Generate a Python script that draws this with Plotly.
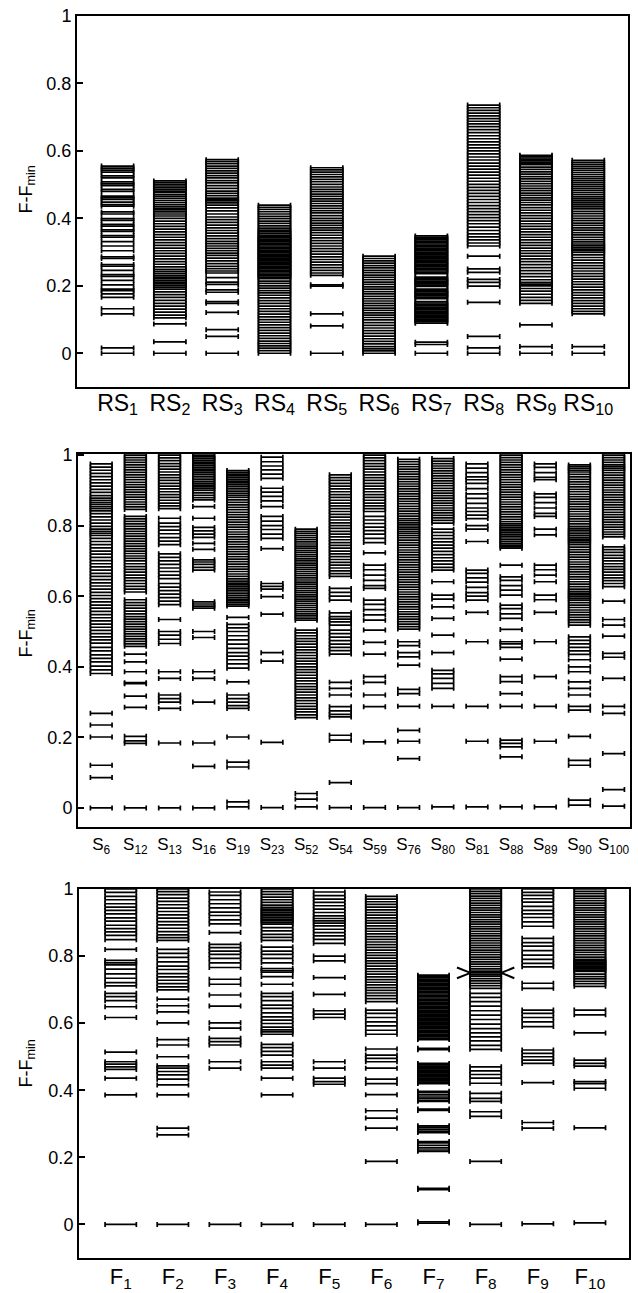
import plotly.graph_objects as go

# ---------------- Panel 1 : RS structures ----------------
rs_labels = ["RS<sub>1</sub>", "RS<sub>2</sub>", "RS<sub>3</sub>", "RS<sub>4</sub>", "RS<sub>5</sub>",
             "RS<sub>6</sub>", "RS<sub>7</sub>", "RS<sub>8</sub>", "RS<sub>9</sub>", "RS<sub>10</sub>"]

RS1 = [0.555, 0.549, 0.543, 0.537, 0.526, 0.520, 0.508, 0.502, 0.497, 0.486, 0.480, 0.466, 0.461, 0.456, 0.448,
       0.441, 0.436, 0.419, 0.413, 0.399, 0.394, 0.382, 0.377, 0.366, 0.361, 0.349, 0.344, 0.331, 0.318, 0.304,
       0.286, 0.281, 0.263, 0.258, 0.246, 0.233, 0.228, 0.216, 0.203, 0.190, 0.186, 0.176, 0.166, 0.132, 0.117,
       0.016, 0.0]
RS2 = [0.511, 0.506, 0.501, 0.496, 0.491, 0.486, 0.481, 0.476, 0.470, 0.465, 0.459, 0.453, 0.447, 0.441, 0.435,
       0.430, 0.425, 0.419, 0.413, 0.407, 0.400, 0.392, 0.384, 0.376, 0.368, 0.360, 0.352, 0.344, 0.336, 0.328,
       0.320, 0.312, 0.304, 0.296, 0.288, 0.280, 0.272, 0.264, 0.256, 0.249, 0.243, 0.237, 0.231, 0.226, 0.221,
       0.216, 0.211, 0.206, 0.201, 0.196, 0.190, 0.182, 0.174, 0.166, 0.157, 0.148, 0.140, 0.131, 0.122, 0.113,
       0.105, 0.087, 0.034, 0.0]
RS3 = [0.574, 0.568, 0.562, 0.555, 0.548, 0.541, 0.534, 0.527, 0.520, 0.512, 0.505, 0.497, 0.489, 0.481, 0.474,
       0.467, 0.460, 0.456, 0.452, 0.446, 0.439, 0.431, 0.422, 0.413, 0.404, 0.396, 0.388, 0.380, 0.372, 0.364,
       0.356, 0.348, 0.340, 0.332, 0.325, 0.318, 0.311, 0.304, 0.297, 0.290, 0.282, 0.274, 0.266, 0.258, 0.251,
       0.244, 0.238, 0.224, 0.211, 0.204, 0.188, 0.181, 0.153, 0.148, 0.121, 0.070, 0.050, 0.0]
RS4 = [0.439, 0.433, 0.427, 0.420, 0.413, 0.406, 0.399, 0.392, 0.385, 0.378, 0.371, 0.365, 0.360, 0.355, 0.350,
       0.346, 0.342, 0.338, 0.334, 0.330, 0.326, 0.322, 0.318, 0.314, 0.310, 0.306, 0.302, 0.298, 0.294, 0.290,
       0.286, 0.282, 0.278, 0.274, 0.270, 0.266, 0.262, 0.258, 0.254, 0.250, 0.246, 0.242, 0.238, 0.234, 0.230,
       0.226, 0.221, 0.214, 0.207, 0.200, 0.193, 0.186, 0.179, 0.172, 0.164, 0.156, 0.148, 0.140, 0.132, 0.124,
       0.116, 0.108, 0.100, 0.092, 0.084, 0.076, 0.068, 0.060, 0.052, 0.044, 0.036, 0.029, 0.022, 0.015, 0.008, 0.0]
RS5 = [0.550, 0.544, 0.537, 0.530, 0.523, 0.516, 0.509, 0.501, 0.493, 0.486, 0.479, 0.472, 0.465, 0.458, 0.451,
       0.444, 0.437, 0.430, 0.423, 0.416, 0.408, 0.400, 0.393, 0.386, 0.379, 0.372, 0.365, 0.358, 0.350, 0.342,
       0.334, 0.326, 0.318, 0.310, 0.302, 0.294, 0.286, 0.278, 0.270, 0.262, 0.254, 0.246, 0.238, 0.231, 0.203,
       0.199, 0.117, 0.081, 0.0]
RS6 = [0.288, 0.281, 0.274, 0.267, 0.260, 0.253, 0.246, 0.239, 0.232, 0.225, 0.218, 0.211, 0.204, 0.197, 0.190,
       0.183, 0.176, 0.169, 0.162, 0.155, 0.148, 0.141, 0.134, 0.127, 0.120, 0.113, 0.106, 0.099, 0.091, 0.083,
       0.075, 0.067, 0.059, 0.051, 0.043, 0.035, 0.028, 0.020, 0.013, 0.007, 0.0]
RS7 = [0.348, 0.344, 0.340, 0.336, 0.332, 0.328, 0.324, 0.320, 0.316, 0.312, 0.308, 0.304, 0.300, 0.296, 0.292,
       0.288, 0.284, 0.280, 0.276, 0.272, 0.268, 0.264, 0.260, 0.256, 0.252, 0.248, 0.244, 0.240, 0.236, 0.226,
       0.222, 0.218, 0.214, 0.210, 0.206, 0.202, 0.198, 0.190, 0.186, 0.182, 0.178, 0.174, 0.170, 0.166, 0.162,
       0.153, 0.149, 0.145, 0.141, 0.137, 0.133, 0.129, 0.125, 0.121, 0.117, 0.113, 0.109, 0.105, 0.101, 0.097,
       0.093, 0.089, 0.033, 0.026, 0.0]
RS8 = [0.736, 0.728, 0.720, 0.712, 0.704, 0.696, 0.688, 0.680, 0.672, 0.663, 0.654, 0.645, 0.636, 0.627, 0.618,
       0.609, 0.600, 0.591, 0.582, 0.573, 0.564, 0.555, 0.546, 0.537, 0.528, 0.519, 0.510, 0.501, 0.492, 0.483,
       0.474, 0.465, 0.456, 0.447, 0.438, 0.429, 0.420, 0.411, 0.402, 0.393, 0.384, 0.374, 0.364, 0.354, 0.345,
       0.336, 0.327, 0.318, 0.288, 0.250, 0.240, 0.219, 0.210, 0.199, 0.151, 0.050, 0.016, 0.0]
RS9 = [0.587, 0.583, 0.579, 0.575, 0.571, 0.567, 0.563, 0.559, 0.552, 0.545, 0.538, 0.531, 0.524, 0.517, 0.510,
       0.503, 0.496, 0.489, 0.482, 0.475, 0.468, 0.461, 0.454, 0.447, 0.440, 0.432, 0.424, 0.416, 0.408, 0.400,
       0.392, 0.384, 0.376, 0.368, 0.360, 0.352, 0.344, 0.336, 0.328, 0.320, 0.312, 0.304, 0.296, 0.288, 0.280,
       0.272, 0.263, 0.254, 0.245, 0.236, 0.227, 0.218, 0.210, 0.205, 0.200, 0.192, 0.184, 0.175, 0.166, 0.157,
       0.148, 0.084, 0.020, 0.0]
RS10 = [0.572, 0.566, 0.560, 0.554, 0.548, 0.542, 0.536, 0.530, 0.524, 0.518, 0.512, 0.506, 0.500, 0.494, 0.488,
        0.482, 0.476, 0.470, 0.464, 0.458, 0.452, 0.446, 0.440, 0.434, 0.428, 0.421, 0.414, 0.407, 0.400, 0.393,
        0.386, 0.379, 0.372, 0.365, 0.358, 0.351, 0.344, 0.337, 0.330, 0.324, 0.319, 0.314, 0.309, 0.304, 0.299,
        0.292, 0.284, 0.276, 0.268, 0.260, 0.252, 0.244, 0.236, 0.228, 0.220, 0.212, 0.204, 0.196, 0.188, 0.180,
        0.172, 0.164, 0.156, 0.148, 0.140, 0.132, 0.124, 0.117, 0.020, 0.0]

# ---------------- Panel 2 : S structures ----------------
s_labels = ["S<sub>6</sub>", "S<sub>12</sub>", "S<sub>13</sub>", "S<sub>16</sub>", "S<sub>19</sub>",
            "S<sub>23</sub>", "S<sub>52</sub>", "S<sub>54</sub>", "S<sub>59</sub>", "S<sub>76</sub>",
            "S<sub>80</sub>", "S<sub>81</sub>", "S<sub>88</sub>", "S<sub>89</sub>", "S<sub>90</sub>",
            "S<sub>100</sub>"]

S6 = [0.975, 0.966, 0.957, 0.948, 0.939, 0.930, 0.921, 0.912, 0.903, 0.894, 0.885, 0.878, 0.872, 0.866, 0.860,
      0.854, 0.848, 0.842, 0.834, 0.825, 0.816, 0.807, 0.798, 0.790, 0.784, 0.778, 0.772, 0.764, 0.755, 0.746,
      0.737, 0.728, 0.719, 0.710, 0.701, 0.692, 0.683, 0.674, 0.665, 0.656, 0.647, 0.638, 0.629, 0.620, 0.611,
      0.602, 0.593, 0.584, 0.575, 0.566, 0.557, 0.548, 0.539, 0.530, 0.521, 0.512, 0.503, 0.494, 0.485, 0.476,
      0.467, 0.455, 0.445, 0.434, 0.424, 0.414, 0.402, 0.391, 0.381, 0.268, 0.235, 0.201, 0.121, 0.086, 0.0]
S12 = [1.0, 0.993, 0.986, 0.979, 0.972, 0.965, 0.958, 0.951, 0.944, 0.937, 0.930, 0.923, 0.916, 0.909, 0.902,
       0.895, 0.888, 0.881, 0.874, 0.867, 0.860, 0.853, 0.846, 0.826, 0.819, 0.812, 0.805, 0.798, 0.791, 0.784,
       0.777, 0.770, 0.763, 0.756, 0.749, 0.742, 0.735, 0.728, 0.721, 0.714, 0.707, 0.700, 0.692, 0.684, 0.676,
       0.668, 0.660, 0.652, 0.644, 0.636, 0.628, 0.620, 0.612, 0.590, 0.582, 0.574, 0.566, 0.558, 0.550, 0.542,
       0.535, 0.528, 0.521, 0.514, 0.507, 0.500, 0.493, 0.486, 0.479, 0.472, 0.465, 0.458, 0.436, 0.414, 0.386,
       0.355, 0.352, 0.317, 0.285, 0.203, 0.190, 0.183, 0.0]
S13 = [1.0, 0.992, 0.984, 0.976, 0.968, 0.960, 0.952, 0.944, 0.936, 0.928, 0.920, 0.912, 0.904, 0.896, 0.888,
       0.880, 0.872, 0.864, 0.856, 0.848, 0.821, 0.807, 0.797, 0.787, 0.777, 0.766, 0.756, 0.746, 0.720, 0.710,
       0.700, 0.690, 0.680, 0.670, 0.660, 0.650, 0.636, 0.626, 0.616, 0.606, 0.596, 0.586, 0.576, 0.534, 0.500,
       0.490, 0.478, 0.466, 0.386, 0.367, 0.320, 0.310, 0.300, 0.282, 0.184, 0.0]
S16 = [1.0, 0.995, 0.990, 0.985, 0.980, 0.975, 0.970, 0.965, 0.960, 0.955, 0.950, 0.945, 0.940, 0.935, 0.930,
       0.925, 0.920, 0.915, 0.910, 0.905, 0.900, 0.893, 0.886, 0.879, 0.873, 0.854, 0.821, 0.795, 0.785, 0.776,
       0.767, 0.750, 0.733, 0.703, 0.697, 0.690, 0.682, 0.674, 0.584, 0.578, 0.572, 0.566, 0.500, 0.483, 0.386,
       0.367, 0.300, 0.184, 0.118, 0.0]
S19 = [0.956, 0.951, 0.946, 0.941, 0.936, 0.931, 0.926, 0.921, 0.916, 0.911, 0.906, 0.901, 0.896, 0.891, 0.886,
       0.880, 0.873, 0.866, 0.859, 0.852, 0.845, 0.838, 0.831, 0.824, 0.817, 0.810, 0.803, 0.796, 0.789, 0.782,
       0.775, 0.768, 0.761, 0.754, 0.747, 0.740, 0.733, 0.726, 0.719, 0.712, 0.705, 0.698, 0.691, 0.684, 0.677,
       0.670, 0.663, 0.656, 0.649, 0.643, 0.637, 0.632, 0.627, 0.622, 0.617, 0.612, 0.607, 0.602, 0.597, 0.592,
       0.587, 0.582, 0.577, 0.572, 0.540, 0.520, 0.510, 0.500, 0.488, 0.476, 0.464, 0.452, 0.440, 0.430, 0.420,
       0.408, 0.396, 0.357, 0.320, 0.310, 0.300, 0.290, 0.282, 0.201, 0.130, 0.116, 0.017, 0.003]
S23 = [0.994, 0.981, 0.969, 0.958, 0.946, 0.934, 0.906, 0.895, 0.883, 0.870, 0.854, 0.826, 0.813, 0.800, 0.789,
       0.776, 0.764, 0.735, 0.636, 0.628, 0.620, 0.599, 0.549, 0.440, 0.416, 0.186, 0.001]
S52 = [0.790, 0.784, 0.778, 0.772, 0.766, 0.760, 0.754, 0.748, 0.742, 0.736, 0.730, 0.724, 0.718, 0.712, 0.706,
       0.700, 0.694, 0.688, 0.682, 0.676, 0.670, 0.664, 0.658, 0.652, 0.646, 0.640, 0.634, 0.628, 0.622, 0.616,
       0.610, 0.604, 0.598, 0.592, 0.586, 0.580, 0.574, 0.568, 0.562, 0.556, 0.550, 0.544, 0.538, 0.532, 0.504,
       0.496, 0.488, 0.480, 0.472, 0.464, 0.456, 0.448, 0.440, 0.432, 0.424, 0.416, 0.408, 0.400, 0.392, 0.384,
       0.376, 0.368, 0.360, 0.352, 0.344, 0.336, 0.328, 0.320, 0.312, 0.304, 0.296, 0.288, 0.280, 0.272, 0.264,
       0.256, 0.041, 0.025, 0.003]
S54 = [0.944, 0.936, 0.928, 0.920, 0.912, 0.904, 0.896, 0.888, 0.880, 0.872, 0.864, 0.856, 0.848, 0.840, 0.832,
       0.824, 0.816, 0.808, 0.800, 0.792, 0.784, 0.776, 0.768, 0.760, 0.752, 0.744, 0.736, 0.728, 0.720, 0.712,
       0.704, 0.696, 0.688, 0.680, 0.672, 0.664, 0.656, 0.622, 0.611, 0.600, 0.589, 0.553, 0.542, 0.535, 0.527,
       0.518, 0.504, 0.494, 0.484, 0.474, 0.464, 0.455, 0.446, 0.436, 0.356, 0.339, 0.320, 0.287, 0.275, 0.265,
       0.258, 0.206, 0.192, 0.072, 0.001]
S59 = [1.0, 0.992, 0.984, 0.976, 0.968, 0.960, 0.952, 0.944, 0.936, 0.928, 0.920, 0.912, 0.904, 0.896, 0.888,
       0.880, 0.872, 0.864, 0.856, 0.848, 0.840, 0.826, 0.816, 0.806, 0.796, 0.786, 0.776, 0.764, 0.752, 0.723,
       0.688, 0.675, 0.660, 0.645, 0.630, 0.622, 0.589, 0.577, 0.562, 0.547, 0.532, 0.504, 0.469, 0.436, 0.372,
       0.356, 0.320, 0.287, 0.187, 0.001]
S76 = [0.988, 0.981, 0.974, 0.967, 0.960, 0.953, 0.946, 0.939, 0.932, 0.925, 0.918, 0.911, 0.904, 0.897, 0.890,
       0.883, 0.876, 0.869, 0.862, 0.855, 0.848, 0.841, 0.834, 0.827, 0.820, 0.814, 0.808, 0.802, 0.796, 0.790,
       0.784, 0.778, 0.772, 0.766, 0.759, 0.752, 0.745, 0.738, 0.731, 0.724, 0.717, 0.710, 0.703, 0.696, 0.689,
       0.682, 0.675, 0.668, 0.661, 0.654, 0.647, 0.640, 0.633, 0.626, 0.619, 0.612, 0.605, 0.598, 0.591, 0.584,
       0.577, 0.570, 0.563, 0.556, 0.549, 0.542, 0.535, 0.528, 0.521, 0.514, 0.507, 0.471, 0.460, 0.440, 0.428,
       0.405, 0.336, 0.324, 0.288, 0.220, 0.189, 0.140, 0.001]
S80 = [0.990, 0.983, 0.976, 0.969, 0.962, 0.955, 0.948, 0.941, 0.934, 0.927, 0.920, 0.913, 0.906, 0.899, 0.892,
       0.885, 0.878, 0.871, 0.864, 0.857, 0.850, 0.843, 0.836, 0.829, 0.822, 0.815, 0.807, 0.790, 0.781, 0.772,
       0.763, 0.754, 0.745, 0.736, 0.727, 0.718, 0.709, 0.700, 0.691, 0.682, 0.674, 0.641, 0.603, 0.592, 0.570,
       0.537, 0.490, 0.440, 0.390, 0.380, 0.367, 0.353, 0.339, 0.288, 0.003]
S81 = [0.975, 0.963, 0.950, 0.938, 0.930, 0.920, 0.905, 0.890, 0.877, 0.863, 0.850, 0.840, 0.830, 0.820, 0.800,
       0.790, 0.755, 0.674, 0.665, 0.652, 0.640, 0.625, 0.610, 0.600, 0.589, 0.554, 0.471, 0.288, 0.189, 0.003]
S88 = [1.0, 0.993, 0.986, 0.979, 0.972, 0.965, 0.958, 0.951, 0.944, 0.937, 0.930, 0.923, 0.916, 0.909, 0.902,
       0.895, 0.888, 0.881, 0.874, 0.867, 0.860, 0.853, 0.846, 0.839, 0.832, 0.825, 0.818, 0.811, 0.805, 0.800,
       0.795, 0.790, 0.785, 0.780, 0.775, 0.770, 0.765, 0.760, 0.755, 0.750, 0.745, 0.740, 0.736, 0.688, 0.655,
       0.645, 0.630, 0.617, 0.603, 0.575, 0.565, 0.550, 0.537, 0.506, 0.471, 0.465, 0.455, 0.422, 0.372, 0.358,
       0.324, 0.288, 0.192, 0.183, 0.173, 0.145, 0.003]
S89 = [0.975, 0.965, 0.950, 0.937, 0.930, 0.890, 0.880, 0.865, 0.850, 0.835, 0.826, 0.790, 0.774, 0.688, 0.675,
       0.660, 0.641, 0.603, 0.590, 0.554, 0.471, 0.372, 0.288, 0.189, 0.003]
S90 = [0.972, 0.967, 0.962, 0.957, 0.952, 0.945, 0.938, 0.931, 0.924, 0.917, 0.910, 0.903, 0.896, 0.889, 0.882,
       0.875, 0.868, 0.861, 0.854, 0.847, 0.840, 0.833, 0.826, 0.819, 0.812, 0.805, 0.798, 0.792, 0.787, 0.782,
       0.777, 0.772, 0.767, 0.762, 0.757, 0.752, 0.746, 0.739, 0.732, 0.725, 0.718, 0.711, 0.704, 0.697, 0.690,
       0.683, 0.676, 0.669, 0.662, 0.655, 0.648, 0.641, 0.634, 0.627, 0.620, 0.614, 0.609, 0.604, 0.599, 0.594,
       0.589, 0.582, 0.575, 0.568, 0.561, 0.554, 0.547, 0.540, 0.533, 0.526, 0.518, 0.485, 0.475, 0.465, 0.455,
       0.445, 0.435, 0.420, 0.400, 0.386, 0.357, 0.339, 0.320, 0.288, 0.277, 0.203, 0.135, 0.121, 0.022, 0.008]
S100 = [1.0, 0.993, 0.986, 0.979, 0.972, 0.967, 0.962, 0.957, 0.950, 0.943, 0.936, 0.929, 0.922, 0.915, 0.908,
        0.901, 0.894, 0.887, 0.880, 0.873, 0.866, 0.859, 0.852, 0.845, 0.838, 0.831, 0.824, 0.817, 0.810, 0.803,
        0.796, 0.789, 0.782, 0.775, 0.768, 0.740, 0.732, 0.724, 0.716, 0.708, 0.700, 0.692, 0.684, 0.676, 0.668,
        0.660, 0.652, 0.644, 0.636, 0.627, 0.586, 0.534, 0.518, 0.487, 0.438, 0.427, 0.367, 0.288, 0.268, 0.154,
        0.052, 0.005]

# ---------------- Panel 3 : F structures ----------------
f_labels = ["F<sub>1</sub>", "F<sub>2</sub>", "F<sub>3</sub>", "F<sub>4</sub>", "F<sub>5</sub>",
            "F<sub>6</sub>", "F<sub>7</sub>", "F<sub>8</sub>", "F<sub>9</sub>", "F<sub>10</sub>"]

F1 = [1.0, 0.990, 0.978, 0.968, 0.956, 0.946, 0.936, 0.926, 0.914, 0.904, 0.892, 0.882, 0.872, 0.862, 0.849,
      0.820, 0.787, 0.780, 0.774, 0.761, 0.747, 0.734, 0.721, 0.711, 0.689, 0.679, 0.667, 0.649, 0.617, 0.514,
      0.485, 0.478, 0.470, 0.462, 0.436, 0.386, 0.0]
F2 = [1.0, 0.992, 0.983, 0.973, 0.963, 0.953, 0.943, 0.933, 0.923, 0.913, 0.903, 0.893, 0.883, 0.873, 0.863,
      0.855, 0.847, 0.820, 0.808, 0.796, 0.783, 0.770, 0.760, 0.748, 0.738, 0.728, 0.718, 0.708, 0.699, 0.672,
      0.652, 0.634, 0.601, 0.551, 0.535, 0.500, 0.473, 0.466, 0.456, 0.446, 0.433, 0.416, 0.386, 0.287, 0.267, 0.0]
F3 = [0.991, 0.981, 0.968, 0.956, 0.944, 0.931, 0.921, 0.908, 0.896, 0.870, 0.835, 0.825, 0.815, 0.805, 0.793,
      0.780, 0.766, 0.731, 0.716, 0.684, 0.651, 0.601, 0.585, 0.555, 0.545, 0.535, 0.485, 0.466, 0.0]
F4 = [1.0, 0.992, 0.984, 0.976, 0.968, 0.960, 0.952, 0.945, 0.940, 0.935, 0.930, 0.925, 0.920, 0.915, 0.910,
      0.905, 0.900, 0.895, 0.885, 0.875, 0.865, 0.856, 0.847, 0.827, 0.815, 0.805, 0.793, 0.780, 0.763, 0.757,
      0.752, 0.739, 0.716, 0.689, 0.679, 0.667, 0.654, 0.644, 0.631, 0.619, 0.609, 0.599, 0.588, 0.580, 0.574,
      0.567, 0.537, 0.527, 0.516, 0.505, 0.485, 0.475, 0.466, 0.436, 0.386, 0.0]
F5 = [0.991, 0.980, 0.970, 0.960, 0.950, 0.940, 0.930, 0.920, 0.912, 0.905, 0.898, 0.890, 0.880, 0.870, 0.860,
      0.850, 0.838, 0.800, 0.786, 0.736, 0.686, 0.637, 0.627, 0.617, 0.485, 0.466, 0.436, 0.426, 0.418, 0.0]
F6 = [0.978, 0.970, 0.962, 0.954, 0.946, 0.938, 0.930, 0.922, 0.914, 0.906, 0.898, 0.890, 0.882, 0.874, 0.866,
      0.858, 0.850, 0.842, 0.834, 0.826, 0.818, 0.810, 0.802, 0.794, 0.786, 0.778, 0.770, 0.762, 0.754, 0.746,
      0.738, 0.730, 0.722, 0.714, 0.706, 0.698, 0.690, 0.682, 0.673, 0.664, 0.639, 0.629, 0.617, 0.604, 0.592,
      0.579, 0.567, 0.523, 0.505, 0.495, 0.485, 0.466, 0.433, 0.420, 0.387, 0.339, 0.317, 0.287, 0.188, 0.0]
F7 = [0.743, 0.739, 0.735, 0.731, 0.727, 0.723, 0.719, 0.715, 0.711, 0.707, 0.703, 0.699, 0.695, 0.691, 0.687,
      0.683, 0.679, 0.675, 0.671, 0.667, 0.663, 0.659, 0.655, 0.651, 0.647, 0.643, 0.639, 0.635, 0.631, 0.627,
      0.623, 0.619, 0.615, 0.611, 0.607, 0.603, 0.599, 0.595, 0.591, 0.587, 0.583, 0.579, 0.575, 0.571, 0.567,
      0.563, 0.559, 0.555, 0.551, 0.525, 0.521, 0.480, 0.476, 0.472, 0.468, 0.464, 0.460, 0.456, 0.452, 0.448,
      0.444, 0.440, 0.436, 0.432, 0.428, 0.424, 0.420, 0.397, 0.393, 0.386, 0.380, 0.376, 0.370, 0.367, 0.344,
      0.340, 0.294, 0.290, 0.284, 0.278, 0.274, 0.247, 0.243, 0.236, 0.228, 0.222, 0.218, 0.108, 0.104, 0.008,
      0.004]
F8 = [1.0, 0.993, 0.986, 0.979, 0.972, 0.965, 0.958, 0.951, 0.944, 0.937, 0.930, 0.923, 0.916, 0.909, 0.902,
      0.895, 0.888, 0.881, 0.874, 0.867, 0.860, 0.853, 0.846, 0.839, 0.832, 0.825, 0.818, 0.811, 0.804, 0.797,
      0.790, 0.783, 0.776, 0.769, 0.762, 0.755, 0.750, 0.745, 0.740, 0.733, 0.726, 0.719, 0.712, 0.704, 0.689,
      0.677, 0.664, 0.651, 0.637, 0.624, 0.611, 0.597, 0.584, 0.571, 0.559, 0.547, 0.534, 0.522, 0.470, 0.458,
      0.447, 0.436, 0.421, 0.391, 0.376, 0.367, 0.336, 0.322, 0.188, 0.0]
F9 = [1.0, 0.990, 0.981, 0.971, 0.961, 0.948, 0.936, 0.926, 0.915, 0.902, 0.889, 0.853, 0.840, 0.830, 0.816,
      0.803, 0.790, 0.778, 0.768, 0.719, 0.704, 0.639, 0.629, 0.617, 0.604, 0.590, 0.520, 0.510, 0.500, 0.490,
      0.480, 0.423, 0.304, 0.287, 0.002]
F10 = [1.0, 0.993, 0.986, 0.979, 0.972, 0.965, 0.958, 0.951, 0.944, 0.937, 0.930, 0.923, 0.916, 0.909, 0.902,
       0.895, 0.888, 0.881, 0.874, 0.867, 0.860, 0.853, 0.846, 0.839, 0.832, 0.825, 0.818, 0.811, 0.804, 0.797,
       0.790, 0.786, 0.782, 0.778, 0.774, 0.770, 0.766, 0.762, 0.758, 0.754, 0.746, 0.739, 0.732, 0.725, 0.718,
       0.710, 0.639, 0.625, 0.571, 0.490, 0.480, 0.472, 0.426, 0.420, 0.406, 0.288, 0.005]

F8_marked_level = 0.75   # level marked with >  < on column F8
F8_marked_column = 8

y_tickvals = [0, 0.2, 0.4, 0.6, 0.8, 1]
y_ticktext = ["0", "0.2", "0.4", "0.6", "0.8", "1"]

FONT = "Liberation Sans, Arial, Helvetica, sans-serif"

panels = [
    dict(cols=[RS1, RS2, RS3, RS4, RS5, RS6, RS7, RS8, RS9, RS10], labels=rs_labels,
         xa="x", ya="y", half=0.307, xrange=[0.224, 10.76], yrange=[-0.1, 1.0],
         xdom=[77 / 638, 628 / 638], ydom=[1 - 387 / 1293, 1 - 16 / 1293], lab=23, stand=-6, tshift=12),
    dict(cols=[S6, S12, S13, S16, S19, S23, S52, S54, S59, S76, S80, S81, S88, S89, S90, S100],
         labels=s_labels, xa="x2", ya="y2", half=0.317, xrange=[0.32, 16.48], yrange=[-0.054, 1.003],
         xdom=[78 / 638, 630 / 638], ydom=[1 - 827 / 1293, 1 - 454 / 1293], lab=17, stand=1, tshift=7),
    dict(cols=[F1, F2, F3, F4, F5, F6, F7, F8, F9, F10], labels=f_labels,
         xa="x3", ya="y3", half=0.30, xrange=[0.2, 10.75], yrange=[-0.1, 1.0],
         xdom=[79 / 638, 629 / 638], ydom=[1 - 1258 / 1293, 1 - 889 / 1293], lab=22, stand=-2, tshift=10),
]

fig = go.Figure()
layout = dict(width=638, height=1293, margin=dict(l=0, r=0, t=0, b=0, pad=0),
              paper_bgcolor="white", plot_bgcolor="white", showlegend=False,
              font=dict(family=FONT, color="black"), annotations=[])

for i, p in enumerate(panels):
    xs, ys = [], []
    for k, col in enumerate(p["cols"]):
        xs += [k + 1] * len(col)
        ys += col
    fig.add_trace(go.Scatter(
        x=xs, y=ys, mode="markers", xaxis=p["xa"], yaxis=p["ya"],
        marker=dict(size=1, color="rgba(0,0,0,0)"),
        error_x=dict(type="constant", value=p["half"], width=2.5, thickness=1.7, color="black"),
        hoverinfo="skip"))
    suffix = "" if i == 0 else str(i + 1)
    layout["xaxis" + suffix] = dict(
        domain=p["xdom"], range=p["xrange"], anchor=p["ya"], automargin=False,
        tickmode="array", tickvals=list(range(1, len(p["labels"]) + 1)), ticktext=p["labels"],
        ticks="", ticklen=0, showgrid=False, zeroline=False, showline=True, mirror=True,
        linecolor="black", linewidth=2, tickfont=dict(size=p["lab"], family=FONT, color="black"),
        ticklabelstandoff=p["stand"])
    layout["yaxis" + suffix] = dict(
        domain=p["ydom"], range=p["yrange"], anchor=p["xa"], automargin=False,
        tickmode="array", tickvals=y_tickvals, ticktext=y_ticktext,
        ticks="inside", ticklen=6, tickwidth=1.5, tickcolor="black",
        showgrid=False, zeroline=False, showline=True, mirror=True,
        linecolor="black", linewidth=2, tickfont=dict(size=18, family=FONT, color="black"))
    layout["annotations"].append(dict(
        text="F-F<sub>min</sub>", xref="paper", yref="paper", x=27 / 638,
        y=(p["ydom"][0] + p["ydom"][1]) / 2 + p["tshift"] / 1293, textangle=-90, showarrow=False,
        xanchor="center", yanchor="middle", font=dict(size=18, family=FONT, color="black")))

# > < markers on F8
m = F8_marked_level
c = F8_marked_column
fig.add_trace(go.Scatter(x=[c - 0.55, c - 0.29, c - 0.55], y=[m + 0.016, m, m - 0.016],
                         mode="lines", line=dict(color="black", width=2), xaxis="x3", yaxis="y3",
                         hoverinfo="skip"))
fig.add_trace(go.Scatter(x=[c + 0.55, c + 0.30, c + 0.55], y=[m + 0.016, m, m - 0.016],
                         mode="lines", line=dict(color="black", width=2), xaxis="x3", yaxis="y3",
                         hoverinfo="skip"))

fig.update_layout(**layout)
fig.write_html("out.html", config={"responsive": False, "displayModeBar": False},
               post_script="document.body.style.margin='0';document.body.style.overflow='hidden';")
